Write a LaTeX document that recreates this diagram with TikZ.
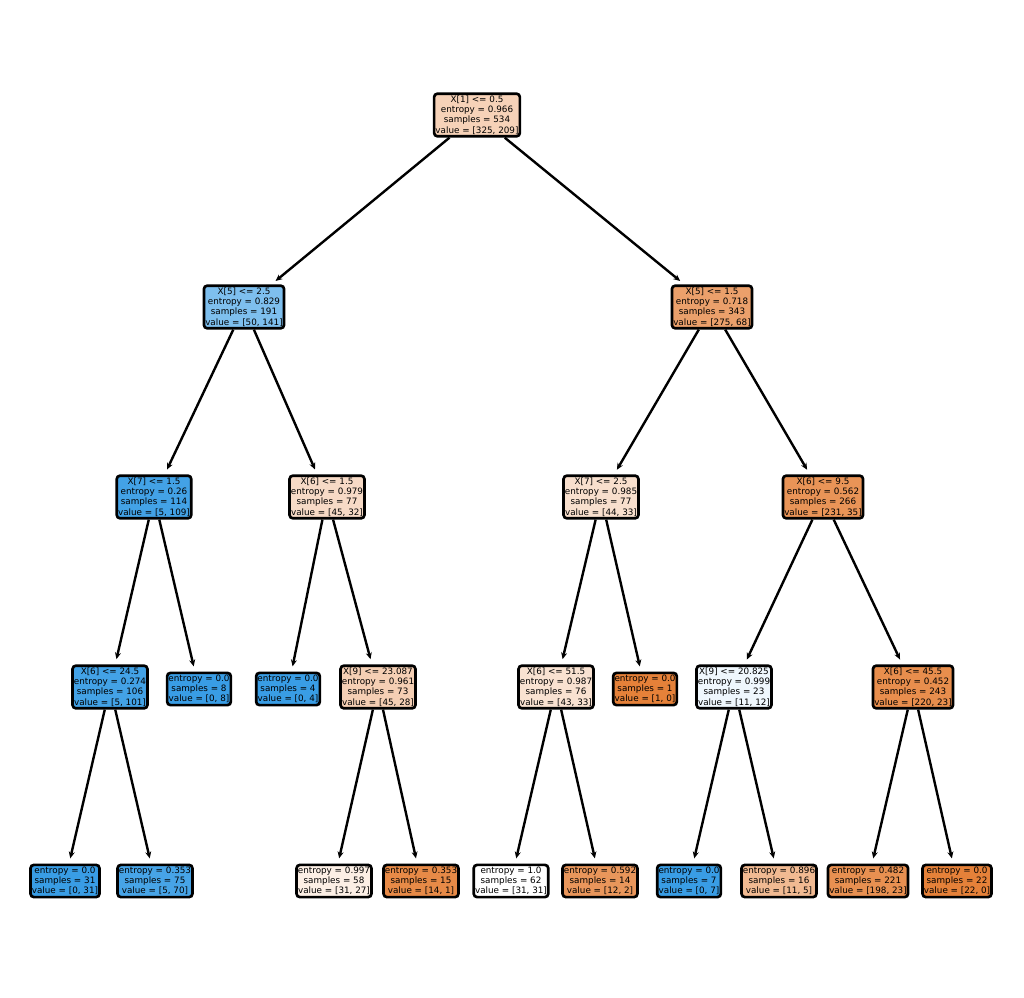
\documentclass[tikz,border=0pt]{standalone}
\usepackage{fontspec}
\setmainfont{DejaVu Sans}
\usetikzlibrary{arrows.meta}
\definecolor{treeorange}{RGB}{229,129,57}
\definecolor{treeblue}{RGB}{57,157,229}

\begin{document}
\begin{tikzpicture}[x=0.75pt, y=-0.75pt,
    treebox/.style={draw=black, line width=2pt, rounded corners=2.5pt,
      align=center, inner xsep=1pt, inner ysep=1.5pt,
      font=\fontsize{6.6}{7.7}\selectfont},
    edge/.style={line width=1.8pt, -{Stealth[length=5pt,width=4.5pt]},
      shorten >=4pt}]
        \useasboundingbox (0,0) rectangle (1024,998);
        % root and first split
        \node[treebox, fill=treeorange!36!white] (n0) at (477,115)
          {X[1] <= 0.5\\entropy = 0.966\\samples = 534\\value = [325, 209]};
        \node[treebox, fill=treeblue!65!white] (n1) at (244,307)
          {X[5] <= 2.5\\entropy = 0.829\\samples = 191\\value = [50, 141]};
        \node[treebox, fill=treeorange!75!white] (n2) at (712,307)
          {X[5] <= 1.5\\entropy = 0.718\\samples = 343\\value = [275, 68]};
        % depth 2
        \node[treebox, fill=treeblue!95!white] (n3) at (154,497)
          {X[7] <= 1.5\\entropy = 0.26\\samples = 114\\value = [5, 109]};
        \node[treebox, fill=treeorange!29!white] (n4) at (327,497)
          {X[6] <= 1.5\\entropy = 0.979\\samples = 77\\value = [45, 32]};
        \node[treebox, fill=treeorange!25!white] (n5) at (601,497)
          {X[7] <= 2.5\\entropy = 0.985\\samples = 77\\value = [44, 33]};
        \node[treebox, fill=treeorange!85!white] (n6) at (823,497)
          {X[6] <= 9.5\\entropy = 0.562\\samples = 266\\value = [231, 35]};
        % depth 3
        \node[treebox, fill=treeblue!95!white] (n7) at (110,687)
          {X[6] <= 24.5\\entropy = 0.274\\samples = 106\\value = [5, 101]};
        \node[treebox, fill=treeblue] (n8) at (199,689)
          {entropy = 0.0\\samples = 8\\value = [0, 8]};
        \node[treebox, fill=treeblue] (n9) at (288,689)
          {entropy = 0.0\\samples = 4\\value = [0, 4]};
        \node[treebox, fill=treeorange!38!white] (n10) at (378,687)
          {X[9] <= 23.087\\entropy = 0.961\\samples = 73\\value = [45, 28]};
        \node[treebox, fill=treeorange!23!white] (n11) at (556,687)
          {X[6] <= 51.5\\entropy = 0.987\\samples = 76\\value = [43, 33]};
        \node[treebox, fill=treeorange] (n12) at (645,689)
          {entropy = 0.0\\samples = 1\\value = [1, 0]};
        \node[treebox, fill=treeblue!8!white] (n13) at (734,687)
          {X[9] <= 20.825\\entropy = 0.999\\samples = 23\\value = [11, 12]};
        \node[treebox, fill=treeorange!90!white] (n14) at (913,687)
          {X[6] <= 45.5\\entropy = 0.452\\samples = 243\\value = [220, 23]};
        % leaves
        \node[treebox, fill=treeblue] (n15) at (65,881)
          {entropy = 0.0\\samples = 31\\value = [0, 31]};
        \node[treebox, fill=treeblue!93!white] (n16) at (155,881)
          {entropy = 0.353\\samples = 75\\value = [5, 70]};
        \node[treebox, fill=treeorange!13!white] (n17) at (334,881)
          {entropy = 0.997\\samples = 58\\value = [31, 27]};
        \node[treebox, fill=treeorange!93!white] (n18) at (421,881)
          {entropy = 0.353\\samples = 15\\value = [14, 1]};
        \node[treebox, fill=white] (n19) at (511,881)
          {entropy = 1.0\\samples = 62\\value = [31, 31]};
        \node[treebox, fill=treeorange!83!white] (n20) at (600,881)
          {entropy = 0.592\\samples = 14\\value = [12, 2]};
        \node[treebox, fill=treeblue] (n21) at (689,881)
          {entropy = 0.0\\samples = 7\\value = [0, 7]};
        \node[treebox, fill=treeorange!55!white] (n22) at (779,881)
          {entropy = 0.896\\samples = 16\\value = [11, 5]};
        \node[treebox, fill=treeorange!88!white] (n23) at (868,881)
          {entropy = 0.482\\samples = 221\\value = [198, 23]};
        \node[treebox, fill=treeorange] (n24) at (957,881)
          {entropy = 0.0\\samples = 22\\value = [22, 0]};
        % edges
        \foreach \a/\b in {n0/n1, n0/n2, n1/n3, n1/n4, n2/n5, n2/n6,
            n3/n7, n3/n8, n4/n9, n4/n10, n5/n11, n5/n12, n6/n13, n6/n14,
            n7/n15, n7/n16, n10/n17, n10/n18, n11/n19, n11/n20,
            n13/n21, n13/n22, n14/n23, n14/n24}
          \draw[edge] (\a) -- (\b);
      \end{tikzpicture}
\end{document}
